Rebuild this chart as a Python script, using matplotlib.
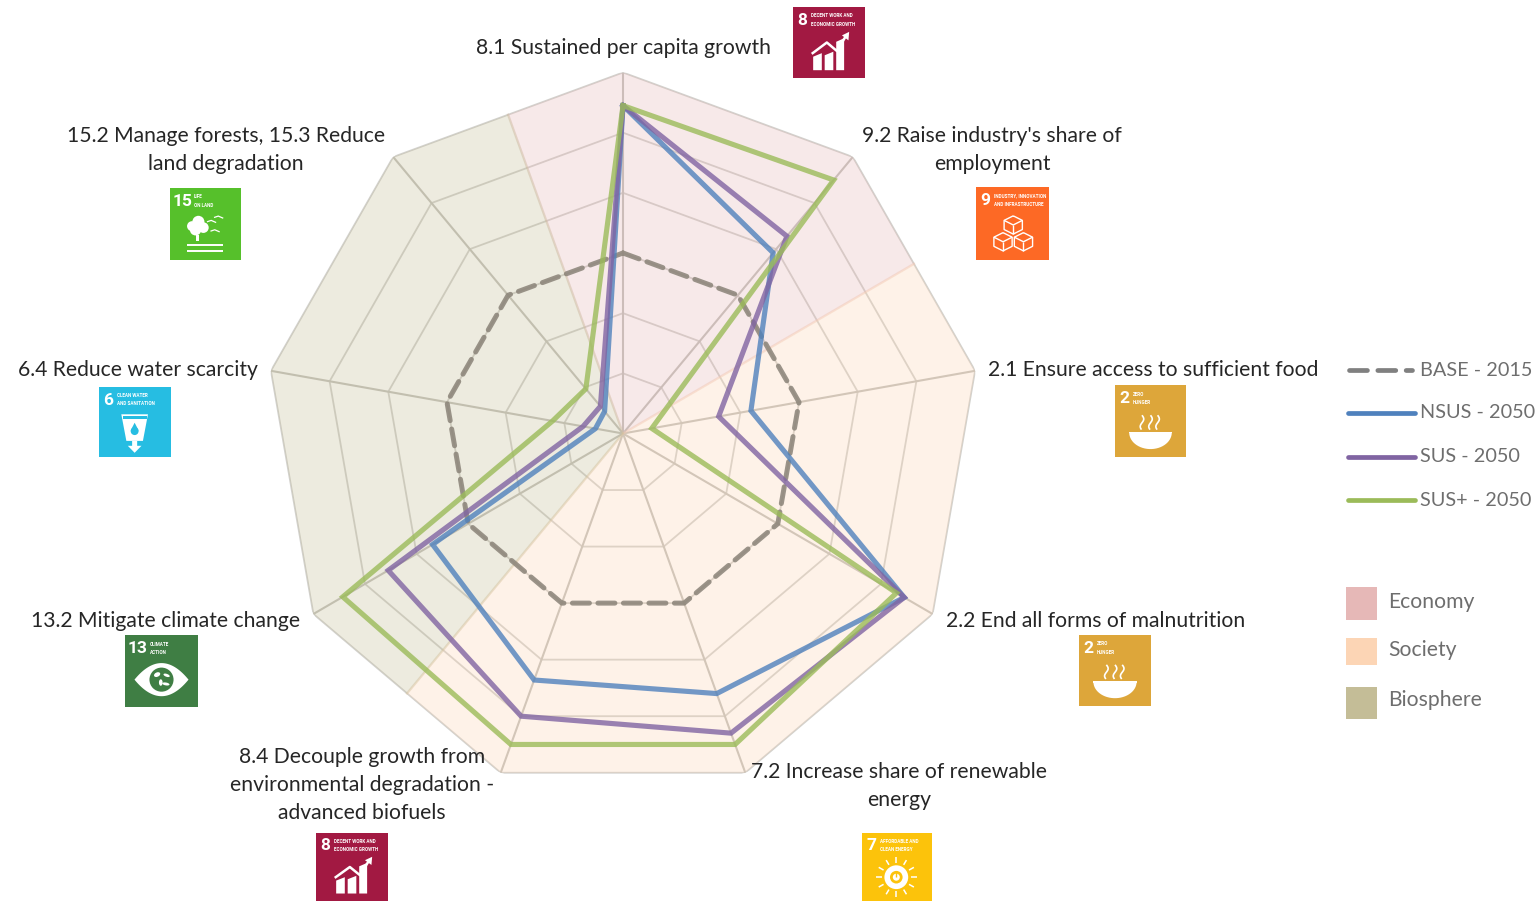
import numpy as np
import matplotlib.pyplot as plt
from matplotlib.patches import Rectangle, Circle, Polygon, Ellipse

plt.rcParams['font.family'] = ['Lato', 'DejaVu Sans']

W, H = 1536, 901

# axis order runs clockwise from the top, every 40 degrees
angles_deg = [0, 40, 80, 120, 160, 200, 240, 280, 320]
base_2015 = [3.0, 3.0, 3.0, 3.0, 3.0, 3.0, 3.0, 3.0, 3.0]
nsus_2050 = [5.45, 3.92, 2.18, 5.45, 4.6, 4.36, 3.69, 0.47, 0.48]
sus_2050 = [5.45, 4.28, 1.63, 5.45, 5.3, 5.0, 4.55, 0.68, 0.59]
susp_2050 = [5.45, 5.5, 0.49, 5.3, 5.5, 5.5, 5.43, 1.2, 0.97]
ring_levels = [1, 2, 3, 4, 5, 6]

series_names = ['BASE - 2015', 'NSUS - 2050', 'SUS - 2050', 'SUS+ - 2050']
series_colors = ['#8a8378', '#4f81bd', '#8064a2', '#9bbb59']
legend_colors = ['#808080', '#4f81bd', '#8064a2', '#9bbb59']

sector_names = ['Economy', 'Society', 'Biosphere']
sector_colors = ['#e6b8b7', '#fcd5b5', '#c4bd97']
sector_edges = [(-20, 60), (60, 220), (220, 340)]

labels = [
    ('8.1 Sustained per capita growth', 623, 48),
    ('9.2 Raise industry\'s share of\nemployment', 992, 136),
    ('2.1 Ensure access to sufficient food', 1153, 370),
    ('2.2 End all forms of malnutrition', 1096, 621),
    ('7.2 Increase share of renewable\nenergy', 899, 772),
    ('8.4 Decouple growth from\nenvironmental degradation -\nadvanced biofuels', 362, 757),
    ('13.2 Mitigate climate change', 166, 621),
    ('6.4 Reduce water scarcity', 138, 370),
    ('15.2 Manage forests, 15.3 Reduce\nland degradation', 226, 136),
]

# x0, y0, x1, y1, colour, number, caption, glyph
icons = [
    (793, 7, 865, 78, '#a21942', '8', 'DECENT WORK AND\nECONOMIC GROWTH', 'growth'),
    (976, 187, 1049, 260, '#fd6925', '9', 'INDUSTRY, INNOVATION\nAND INFRASTRUCTURE', 'cubes'),
    (1115, 385, 1186, 457, '#dda63a', '2', 'ZERO\nHUNGER', 'bowl'),
    (1079, 635, 1151, 706, '#dda63a', '2', 'ZERO\nHUNGER', 'bowl'),
    (862, 833, 932, 901, '#fcc30b', '7', 'AFFORDABLE AND\nCLEAN ENERGY', 'sun'),
    (316, 833, 388, 901, '#a21942', '8', 'DECENT WORK AND\nECONOMIC GROWTH', 'growth'),
    (125, 635, 198, 707, '#3f7e44', '13', 'CLIMATE\nACTION', 'eye'),
    (99, 387, 171, 457, '#26bde2', '6', 'CLEAN WATER\nAND SANITATION', 'water'),
    (170, 188, 241, 260, '#56c02b', '15', 'LIFE\nON LAND', 'tree'),
]


def closed(values):
    return list(values) + [values[0]]


def draw_radar(fig):
    cx, cy, rx, ry = 623, 433.5, 357.5, 361
    ax = fig.add_axes([(cx - rx) / W, 1 - (cy + ry) / H, 2 * rx / W, 2 * ry / H], projection='polar')
    ax.set_aspect('auto')
    ax.set_theta_zero_location('N')
    ax.set_theta_direction(-1)
    ax.set_ylim(0, 6)
    ax.axis('off')
    ax.patch.set_alpha(0)

    theta = np.radians(angles_deg)
    theta_c = closed(theta)

    for lev in ring_levels:
        ax.plot(theta_c, [lev] * len(theta_c), color='#d2d1cd', lw=1.3, zorder=1)
    for t in theta:
        ax.plot([t, t], [0, 6], color='#c2c0ba', lw=1.5, zorder=1)

    # coloured sectors, with a slightly darker seam between them
    edge_r = 6 * np.cos(np.radians(20))
    for (start, end), col in zip(sector_edges, sector_colors):
        inside = [a for a in angles_deg + [360] if start < a < end]
        ts = [0, start] + inside + [end, 0]
        rs = [0, edge_r] + [6] * len(inside) + [edge_r, 0]
        ax.fill(np.radians(ts), rs, facecolor=col, edgecolor='none', alpha=0.3, zorder=2)
        for a in (start, end):
            ax.plot(np.radians([a, a]), [0, edge_r], color=col, lw=1.6, alpha=0.3, zorder=2)

    ax.plot(theta_c, closed(base_2015), color=series_colors[0], lw=3.6, alpha=0.85,
            dashes=(3.4, 1.7), dash_capstyle='round', zorder=3)
    for vals, col, z in zip([nsus_2050, sus_2050, susp_2050], series_colors[1:], [4, 5, 6]):
        ax.plot(theta_c, closed(vals), color=col, lw=3.7, alpha=0.8,
                solid_joinstyle='miter', zorder=z)


def draw_icon(ax, x0, y0, x1, y1, color, number, caption, glyph):
    w, h = x1 - x0, y1 - y0
    ax.add_patch(Rectangle((x0, y0), w, h, facecolor=color, edgecolor='none'))

    def px(u, v):
        return x0 + u * w, y0 + v * h

    def poly(points, fc='white'):
        ax.add_patch(Polygon([px(*p) for p in points], closed=True, facecolor=fc, edgecolor='none'))

    def line(points, lw=1.2, col='white'):
        xy = [px(*p) for p in points]
        ax.plot([p[0] for p in xy], [p[1] for p in xy], color=col, lw=lw, solid_capstyle='butt')

    nx = 0.13 if len(number) == 1 else 0.17
    ax.text(*px(nx, 0.19), number, color='white', fontsize=12.5, fontweight='bold', family='Roboto',
            ha='center', va='center')
    tx = 0.25 if len(number) == 1 else 0.34
    for i, row in enumerate(caption.split('\n')):
        ax.text(*px(tx, 0.125 + i * 0.115), row, color='white', fontsize=3.3, fontweight='bold',
                family='Roboto', ha='left', va='center')

    if glyph == 'growth':
        for a, b, top in [(0.28, 0.40, 0.70), (0.44, 0.56, 0.68), (0.60, 0.71, 0.49)]:
            poly([(a, 0.89), (a, top), (b, top - 0.05), (b, 0.89)])
        line([(0.26, 0.66), (0.47, 0.50), (0.61, 0.62), (0.74, 0.40)], lw=1.8)
        poly([(0.68, 0.40), (0.78, 0.35), (0.77, 0.47)])
    elif glyph == 'cubes':
        for u, v in [(0.51, 0.52), (0.37, 0.75), (0.65, 0.75)]:
            s = 0.125
            hexa = [(u, v - s), (u + s, v - s / 2), (u + s, v + s / 2), (u, v + s), (u - s, v + s / 2),
                    (u - s, v - s / 2), (u, v - s)]
            line(hexa, lw=1.0)
            line([(u - s, v - s / 2), (u, v), (u + s, v - s / 2)], lw=1.0)
            line([(u, v), (u, v + s)], lw=1.0)
    elif glyph == 'bowl':
        a = np.radians(np.linspace(0, 180, 30))
        poly(list(zip(0.5 + 0.3 * np.cos(a), 0.66 + 0.23 * np.sin(a))))
        poly([(0.2, 0.65), (0.8, 0.65), (0.8, 0.67), (0.2, 0.67)])
        v = np.linspace(0.42, 0.62, 15)
        for u in [0.38, 0.5, 0.6]:
            line(list(zip(u + 0.025 * np.sin((v - 0.42) * 30), v)), lw=1.2)
    elif glyph == 'sun':
        c = px(0.49, 0.65)
        ax.add_patch(Circle(c, 0.17 * w, facecolor='white', edgecolor='none'))
        ax.add_patch(Circle(c, 0.09 * w, facecolor=color, edgecolor='none'))
        ax.add_patch(Circle(c, 0.05 * w, facecolor='white', edgecolor='none'))
        line([(0.49, 0.56), (0.49, 0.65)], lw=1.0, col=color)
        for a in np.radians(np.arange(0, 360, 30)):
            line([(0.49 + 0.21 * np.sin(a), 0.65 - 0.21 * np.cos(a)),
                  (0.49 + 0.29 * np.sin(a), 0.65 - 0.29 * np.cos(a))], lw=1.1)
    elif glyph == 'eye':
        t = np.linspace(-1, 1, 40)
        upper = [(0.5 + 0.37 * a, 0.62 - 0.23 * (1 - a * a)) for a in t]
        lower = [(0.5 + 0.37 * a, 0.62 + 0.23 * (1 - a * a)) for a in t[::-1]]
        poly(upper + lower)
        ax.add_patch(Circle(px(0.5, 0.62), 0.165 * w, facecolor=color, edgecolor='none'))
        for u, v, ew, eh, ang in [(0.44, 0.55, 0.09, 0.06, -25), (0.56, 0.68, 0.1, 0.04, 10),
                                  (0.49, 0.66, 0.05, 0.09, 0), (0.57, 0.56, 0.09, 0.04, 20)]:
            ax.add_patch(Ellipse(px(u, v), ew * w, eh * h, angle=ang, facecolor='white', edgecolor='none'))
    elif glyph == 'water':
        poly([(0.31, 0.39), (0.68, 0.39), (0.61, 0.77), (0.38, 0.77)])
        poly([(0.33, 0.41), (0.66, 0.41), (0.66, 0.45), (0.33, 0.45)], fc=color)
        poly([(0.46, 0.77), (0.53, 0.77), (0.53, 0.84), (0.59, 0.84), (0.495, 0.94), (0.40, 0.84), (0.46, 0.84)])
        poly([(0.495, 0.51), (0.44, 0.62), (0.55, 0.62)], fc=color)
        ax.add_patch(Circle(px(0.495, 0.63), 0.055 * w, facecolor=color, edgecolor='none'))
    elif glyph == 'tree':
        for u, v, r in [(0.31, 0.53, 0.07), (0.40, 0.47, 0.085), (0.47, 0.55, 0.075), (0.36, 0.58, 0.08)]:
            ax.add_patch(Circle(px(u, v), r * w, facecolor='white', edgecolor='none'))
        poly([(0.37, 0.65), (0.41, 0.65), (0.41, 0.74), (0.37, 0.74)])
        line([(0.24, 0.79), (0.74, 0.79)], lw=1.4)
        line([(0.24, 0.87), (0.74, 0.87)], lw=1.4)
        for u, v in [(0.52, 0.47), (0.62, 0.41), (0.57, 0.60)]:
            line([(u, v), (u + 0.06, v - 0.02), (u + 0.13, v + 0.01)], lw=0.9)


def draw_overlay(fig):
    ax = fig.add_axes([0, 0, 1, 1])
    ax.patch.set_alpha(0)

    for text, x, y in labels:
        for i, row in enumerate(text.split('\n')):
            ax.text(x, y + i * 28, row, fontsize=15.2, color='#262626', ha='center', va='center')

    for icon in icons:
        draw_icon(ax, *icon)

    # legends
    for i, (name, col, y) in enumerate(zip(series_names, legend_colors, [370, 413, 457, 500])):
        if i == 0:
            ax.plot([1349, 1412], [y, y], color=col, lw=3.4, dashes=(3.8, 2.2), dash_capstyle='round')
        else:
            ax.plot([1348, 1415], [y, y], color=col, lw=3.4, solid_capstyle='round')
        ax.text(1420.5, y, name, fontsize=14.3, color='#6e6e6e', ha='left', va='center')

    boxes = [(587, 620, 601), (638, 665, 649), (687, 719, 700)]
    for name, col, (y0, y1, yt) in zip(sector_names, sector_colors, boxes):
        ax.add_patch(Rectangle((1346, y0), 31, y1 - y0, facecolor=col, edgecolor='none'))
        ax.text(1388.5, yt + 0.5, name, fontsize=15.2, color='#6e6e6e', ha='left', va='center')

    ax.set_xlim(0, W)
    ax.set_ylim(H, 0)
    ax.axis('off')


fig = plt.figure(figsize=(W / 100, H / 100), dpi=100, facecolor='white')
draw_radar(fig)
draw_overlay(fig)
fig.savefig('out.png', dpi=100)
plt.close(fig)
